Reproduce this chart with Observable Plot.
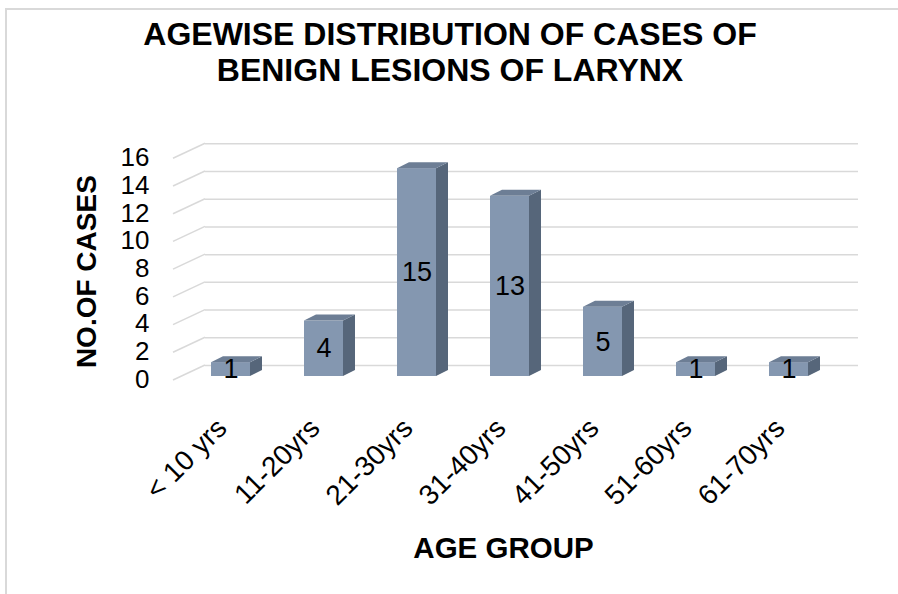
<!DOCTYPE html>
<html>
<head>
<meta charset="utf-8">
<script src="https://cdn.jsdelivr.net/npm/d3@7"></script>
<script src="https://cdn.jsdelivr.net/npm/@observablehq/plot@0.6"></script>
<style>
  html, body { margin: 0; padding: 0; background: #fff; }
  body { width: 898px; height: 594px; overflow: hidden; position: relative; font-family: "Liberation Sans", Arial, sans-serif; }
  #frame { position: absolute; left: 5px; top: 8px; width: 1000px; height: 700px; border-left: 2px solid #d9d9d9; border-top: 2px solid #d9d9d9; }
  #title { position: absolute; left: 0; top: 16px; width: 900px; text-align: center; font-weight: bold; font-size: 32px; line-height: 36px; color: #000; }
  #chart { position: absolute; left: 0; top: 100px; }
</style>
</head>
<body>
<div id="frame"></div>
<div id="title">AGEWISE DISTRIBUTION OF CASES OF<br>BENIGN LESIONS OF LARYNX</div>
<div id="chart"></div>
<script>
const categories = ["< 10 yrs", "11-20yrs", "21-30yrs", "31-40yrs", "41-50yrs", "51-60yrs", "61-70yrs"];
const cases = [1, 4, 15, 13, 5, 1, 1];
const yTicks = [0, 2, 4, 6, 8, 10, 12, 14, 16];
const yLabel = "NO.OF CASES";
const xLabel = "AGE GROUP";

const data = categories.map((c, i) => ({group: c, value: cases[i]}));

const FRONT = "#8497b0", TOP = "#6d7e95", SIDE = "#56667a", GRID = "#d9d9d9";
const DEPTH_X = 12, DEPTH_Y = 6;

// side wall grid lines + 3D faces drawn from Plot's own scales
function wallAndFaces(index, scales, values, dimensions) {
  const g = d3.create("svg:g");
  const sx = scales.x, sy = scales.y;
  const mL = dimensions.marginLeft;
  g.selectAll("line.side").data(yTicks).join("line")
    .attr("x1", mL - 10).attr("y1", d => sy(d) + 4)
    .attr("x2", mL + 22).attr("y2", d => sy(d) - 11)
    .attr("stroke", GRID).attr("stroke-width", 1.5);
  const bw = sx.bandwidth();
  data.forEach(d => {
    const x0 = sx(d.group), x1 = x0 + bw, yT = sy(d.value), yB = sy(0);
    g.append("polygon")
      .attr("points", [[x1, yB], [x1 + DEPTH_X, yB - DEPTH_Y], [x1 + DEPTH_X, yT - DEPTH_Y], [x1, yT]].map(p => p.join(",")).join(" "))
      .attr("fill", SIDE);
    g.append("polygon")
      .attr("points", [[x0, yT], [x0 + DEPTH_X, yT - DEPTH_Y], [x1 + DEPTH_X, yT - DEPTH_Y], [x1, yT]].map(p => p.join(",")).join(" "))
      .attr("fill", TOP);
  });
  return g.node();
}

const chart = Plot.plot({
  width: 898,
  height: 494,
  marginTop: 54.3,
  marginBottom: 218,
  marginLeft: 183,
  marginRight: 62,
  style: {fontFamily: "'Liberation Sans', Arial, sans-serif", color: "#000", background: "transparent", overflow: "visible"},
  x: {domain: categories, paddingInner: 0.58, paddingOuter: 0.29, axis: null},
  y: {domain: [0, 16], axis: null},
  marks: [
    Plot.ruleY(yTicks, {y: d => d, dx: 22, dy: -11, stroke: GRID, strokeWidth: 1.5}),
    Plot.barY(data, {x: "group", y: "value", fill: FRONT}),
    wallAndFaces,
    Plot.text(data, {x: "group", y: d => d.value / 2, text: d => String(d.value), fontSize: 27, fill: "#000"}),
    Plot.text(yTicks, {y: d => d, text: d => String(d), frameAnchor: "left", textAnchor: "end", lineAnchor: "middle", dx: -34, dy: 3, fontSize: 26, fill: "#000"}),
    Plot.text(categories, {x: d => d, text: d => d, frameAnchor: "bottom", rotate: -45, textAnchor: "end", lineAnchor: "middle", dx: -9, dy: 47, fontSize: 28, fill: "#000"}),
    Plot.text([yLabel], {text: d => d, frameAnchor: "left", rotate: -90, textAnchor: "middle", lineAnchor: "middle", dx: -96, dy: 6, fontSize: 28, fontWeight: "bold", fill: "#000"}),
    Plot.text([xLabel], {text: d => d, frameAnchor: "bottom", textAnchor: "middle", lineAnchor: "middle", dx: -6.5, dy: 172, fontSize: 29.5, fontWeight: "bold", fill: "#000"})
  ]
});
document.getElementById("chart").appendChild(chart);
</script>
</body>
</html>
